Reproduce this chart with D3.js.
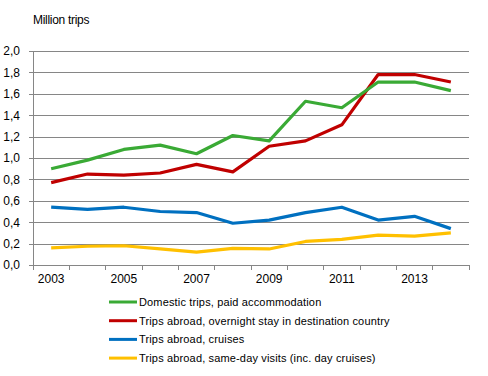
<!DOCTYPE html>
<html>
<head>
<meta charset="utf-8">
<script src="https://cdn.jsdelivr.net/npm/d3@7"></script>
<style>
body { margin: 0; background: #fff; }
svg { font-family: "Liberation Sans", Arial, sans-serif; }
</style>
</head>
<body>
<div id="chart"></div>
<script>
const years = [2003, 2004, 2005, 2006, 2007, 2008, 2009, 2010, 2011, 2012, 2013, 2014];
const yTicks = [0, 0.2, 0.4, 0.6, 0.8, 1.0, 1.2, 1.4, 1.6, 1.8, 2.0];
const seriesNames = [
	"Domestic trips, paid accommodation",
	"Trips abroad, overnight stay in destination country",
	"Trips abroad, cruises",
	"Trips abroad, same-day visits (inc. day cruises)"
];
const domestic = [0.90, 0.98, 1.08, 1.12, 1.04, 1.21, 1.16, 1.53, 1.47, 1.71, 1.71, 1.63];
const overnight = [0.77, 0.85, 0.84, 0.86, 0.94, 0.87, 1.11, 1.16, 1.31, 1.78, 1.78, 1.71];
const cruises = [0.54, 0.52, 0.54, 0.50, 0.49, 0.39, 0.42, 0.49, 0.54, 0.42, 0.455, 0.34];
const sameDay = [0.16, 0.175, 0.18, 0.15, 0.12, 0.155, 0.15, 0.22, 0.24, 0.28, 0.27, 0.30];
const colors = ["#3aaa35", "#c00000", "#0070c0", "#ffc000"];

const width = 488, height = 376;
const plotLeft = 33, plotRight = 469, plotTop = 51, plotBottom = 265;

const series = [domestic, overnight, cruises, sameDay].map((vals, i) => ({
	name: seriesNames[i], color: colors[i],
	values: vals.map((v, j) => ({ year: years[j], value: v }))
}));

const svg = d3.select("#chart").append("svg")
	.attr("width", width)
	.attr("height", height);

const x = d3.scaleBand().domain(years).range([plotLeft, plotRight]);
const y = d3.scaleLinear().domain([0, 2]).range([plotBottom, plotTop]);

// gridlines
svg.append("g")
	.selectAll("line")
	.data(yTicks.filter(d => d > 0))
	.enter().append("line")
	.attr("x1", plotLeft).attr("x2", plotRight)
	.attr("y1", d => Math.round(y(d)) + 0.5).attr("y2", d => Math.round(y(d)) + 0.5)
	.attr("stroke", "#868686").attr("stroke-width", 1);

// y axis
const yAxis = svg.append("g")
	.attr("transform", `translate(${plotLeft},0)`)
	.call(d3.axisLeft(y).tickValues(yTicks).tickSize(4).tickPadding(9)
		.tickFormat(d => d3.format(".1f")(d).replace(".", ",")));
yAxis.selectAll("path, line").attr("stroke", "#868686").attr("shape-rendering", "crispEdges");
yAxis.selectAll("text").attr("font-size", 12).attr("fill", "#000")
	.attr("font-family", "Liberation Sans, Arial, sans-serif");

// x axis
const xAxis = svg.append("g")
	.attr("transform", `translate(0,${plotBottom})`)
	.call(d3.axisBottom(x).tickValues([]).tickSizeOuter(0));
xAxis.select("path").attr("stroke", "#868686").attr("shape-rendering", "crispEdges");
xAxis.selectAll("line.bt")
	.data(d3.range(years.length + 1))
	.enter().append("line")
	.attr("class", "bt")
	.attr("x1", i => plotLeft + i * x.step()).attr("x2", i => plotLeft + i * x.step())
	.attr("y1", 0).attr("y2", 5)
	.attr("stroke", "#868686").attr("shape-rendering", "crispEdges");
xAxis.selectAll("text.yl")
	.data(years.filter((d, i) => i % 2 === 0))
	.enter().append("text")
	.attr("class", "yl")
	.attr("x", d => x(d) + x.bandwidth() / 2)
	.attr("y", 18)
	.attr("text-anchor", "middle")
	.attr("font-size", 12)
	.attr("fill", "#000")
	.text(d => d);

// unit label
svg.append("text")
	.attr("x", 33).attr("y", 24)
	.attr("font-size", 12)
	.attr("letter-spacing", -0.3)
	.text("Million trips");

// lines
const line = d3.line()
	.x(d => x(d.year) + x.bandwidth() / 2)
	.y(d => y(d.value));

svg.append("g")
	.selectAll("path")
	.data(series.slice().reverse())
	.enter().append("path")
	.attr("d", d => line(d.values))
	.attr("fill", "none")
	.attr("stroke", d => d.color)
	.attr("stroke-width", 3.2)
	.attr("stroke-linejoin", "round");

// legend
const legend = svg.append("g")
	.selectAll("g")
	.data(series)
	.enter().append("g")
	.attr("transform", (d, i) => `translate(109,${302 + i * 18.7})`);
legend.append("line")
	.attr("x1", 0).attr("x2", 28)
	.attr("stroke", d => d.color)
	.attr("stroke-width", 3);
legend.append("text")
	.attr("x", 30).attr("y", 4)
	.attr("font-size", 11)
	.attr("letter-spacing", 0.15)
	.text(d => d.name);
</script>
</body>
</html>
